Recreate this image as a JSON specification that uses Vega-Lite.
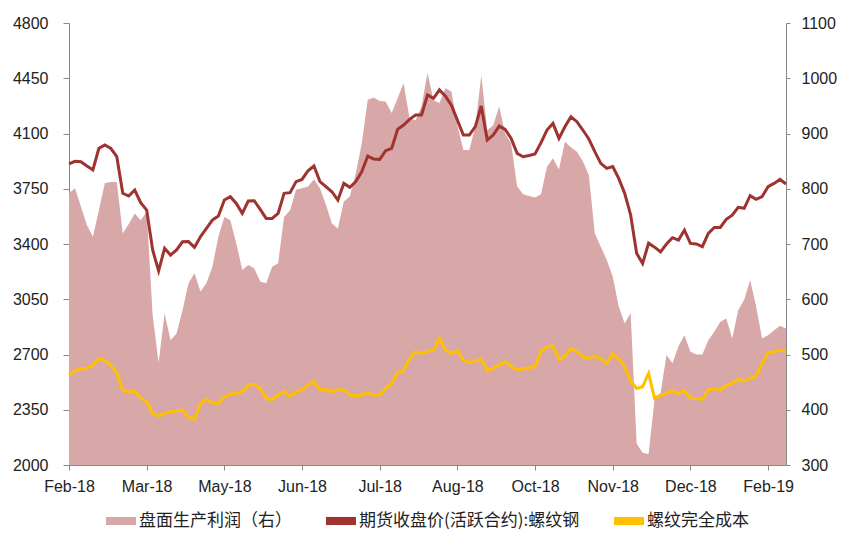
{
  "$schema": "https://vega.github.io/schema/vega-lite/v6.json",
  "width": 717,
  "height": 442,
  "autosize": {"type": "none"},
  "padding": {"left": 69, "top": 23, "right": 64, "bottom": 75},
  "background": "white",
  "config": {
    "view": {"stroke": null},
    "axis": {"labelFont": "Liberation Sans", "labelFontSize": 16, "labelColor": "#222", "domainColor": "#888", "tickColor": "#888", "grid": false, "title": null, "labelOverlap": false},
    "legend": {
      "orient": "none", "legendX": 37, "legendY": 483, "direction": "horizontal", "title": null,
      "labelFont": "Noto Sans CJK SC", "labelFontSize": 17, "labelColor": "#222",
      "symbolType": "M-1,-0.27H1V0.27H-1Z", "symbolSize": 900, "columnPadding": 34, "labelOffset": 3, "padding": 0, "labelLimit": 400, "symbolStrokeWidth": 0
    }
  },
  "data": {"values": [
    {"date": "2018-02-22", "price": 3907, "cost": 2570, "profit": 792},
    {"date": "2018-02-26", "price": 3924, "cost": 2597, "profit": 801},
    {"date": "2018-02-28", "price": 3921, "cost": 2608, "profit": 768},
    {"date": "2018-03-02", "price": 3894, "cost": 2612, "profit": 734},
    {"date": "2018-03-06", "price": 3870, "cost": 2633, "profit": 713},
    {"date": "2018-03-08", "price": 4006, "cost": 2675, "profit": 761},
    {"date": "2018-03-12", "price": 4027, "cost": 2661, "profit": 810},
    {"date": "2018-03-14", "price": 4006, "cost": 2633, "profit": 812},
    {"date": "2018-03-16", "price": 3953, "cost": 2585, "profit": 812},
    {"date": "2018-03-20", "price": 3721, "cost": 2475, "profit": 719},
    {"date": "2018-03-22", "price": 3704, "cost": 2460, "profit": 736},
    {"date": "2018-03-26", "price": 3742, "cost": 2470, "profit": 755},
    {"date": "2018-03-28", "price": 3662, "cost": 2422, "profit": 743},
    {"date": "2018-03-30", "price": 3615, "cost": 2401, "profit": 758},
    {"date": "2018-04-03", "price": 3362, "cost": 2327, "profit": 571},
    {"date": "2018-04-09", "price": 3230, "cost": 2310, "profit": 485},
    {"date": "2018-04-11", "price": 3372, "cost": 2327, "profit": 574},
    {"date": "2018-04-13", "price": 3330, "cost": 2337, "profit": 526},
    {"date": "2018-04-17", "price": 3362, "cost": 2344, "profit": 538},
    {"date": "2018-04-19", "price": 3414, "cost": 2348, "profit": 580},
    {"date": "2018-04-23", "price": 3415, "cost": 2299, "profit": 629},
    {"date": "2018-04-25", "price": 3379, "cost": 2289, "profit": 647},
    {"date": "2018-04-27", "price": 3446, "cost": 2390, "profit": 614},
    {"date": "2018-05-03", "price": 3499, "cost": 2416, "profit": 629},
    {"date": "2018-05-07", "price": 3552, "cost": 2394, "profit": 659},
    {"date": "2018-05-09", "price": 3577, "cost": 2390, "profit": 713},
    {"date": "2018-05-11", "price": 3679, "cost": 2432, "profit": 749},
    {"date": "2018-05-15", "price": 3700, "cost": 2449, "profit": 743},
    {"date": "2018-05-17", "price": 3657, "cost": 2454, "profit": 701},
    {"date": "2018-05-21", "price": 3594, "cost": 2464, "profit": 653},
    {"date": "2018-05-23", "price": 3672, "cost": 2506, "profit": 662},
    {"date": "2018-05-25", "price": 3674, "cost": 2511, "profit": 656},
    {"date": "2018-05-29", "price": 3619, "cost": 2485, "profit": 632},
    {"date": "2018-05-31", "price": 3562, "cost": 2422, "profit": 629},
    {"date": "2018-06-04", "price": 3562, "cost": 2411, "profit": 659},
    {"date": "2018-06-06", "price": 3594, "cost": 2443, "profit": 665},
    {"date": "2018-06-08", "price": 3721, "cost": 2464, "profit": 749},
    {"date": "2018-06-12", "price": 3725, "cost": 2437, "profit": 761},
    {"date": "2018-06-14", "price": 3795, "cost": 2464, "profit": 798},
    {"date": "2018-06-19", "price": 3809, "cost": 2475, "profit": 801},
    {"date": "2018-06-21", "price": 3864, "cost": 2506, "profit": 804},
    {"date": "2018-06-25", "price": 3894, "cost": 2527, "profit": 817},
    {"date": "2018-06-27", "price": 3795, "cost": 2475, "profit": 801},
    {"date": "2018-06-29", "price": 3763, "cost": 2479, "profit": 771},
    {"date": "2018-07-03", "price": 3731, "cost": 2464, "profit": 737},
    {"date": "2018-07-05", "price": 3678, "cost": 2475, "profit": 728},
    {"date": "2018-07-09", "price": 3784, "cost": 2475, "profit": 777},
    {"date": "2018-07-11", "price": 3759, "cost": 2443, "profit": 786},
    {"date": "2018-07-13", "price": 3795, "cost": 2437, "profit": 828},
    {"date": "2018-07-17", "price": 3858, "cost": 2443, "profit": 882},
    {"date": "2018-07-19", "price": 3957, "cost": 2458, "profit": 961},
    {"date": "2018-07-23", "price": 3938, "cost": 2443, "profit": 965},
    {"date": "2018-07-25", "price": 3936, "cost": 2443, "profit": 959},
    {"date": "2018-07-27", "price": 3991, "cost": 2485, "profit": 958},
    {"date": "2018-07-31", "price": 4006, "cost": 2513, "profit": 937},
    {"date": "2018-08-02", "price": 4126, "cost": 2585, "profit": 964},
    {"date": "2018-08-06", "price": 4154, "cost": 2597, "profit": 991},
    {"date": "2018-08-08", "price": 4190, "cost": 2675, "profit": 927},
    {"date": "2018-08-10", "price": 4217, "cost": 2718, "profit": 924},
    {"date": "2018-08-14", "price": 4217, "cost": 2707, "profit": 949},
    {"date": "2018-08-16", "price": 4344, "cost": 2718, "profit": 1010},
    {"date": "2018-08-20", "price": 4323, "cost": 2728, "profit": 960},
    {"date": "2018-08-22", "price": 4376, "cost": 2802, "profit": 955},
    {"date": "2018-08-24", "price": 4337, "cost": 2728, "profit": 982},
    {"date": "2018-08-28", "price": 4280, "cost": 2707, "profit": 976},
    {"date": "2018-08-30", "price": 4185, "cost": 2724, "profit": 915},
    {"date": "2018-09-03", "price": 4090, "cost": 2665, "profit": 870},
    {"date": "2018-09-05", "price": 4090, "cost": 2648, "profit": 870},
    {"date": "2018-09-07", "price": 4143, "cost": 2661, "profit": 912},
    {"date": "2018-09-11", "price": 4274, "cost": 2669, "profit": 1005},
    {"date": "2018-09-13", "price": 4059, "cost": 2597, "profit": 906},
    {"date": "2018-09-17", "price": 4090, "cost": 2612, "profit": 915},
    {"date": "2018-09-19", "price": 4147, "cost": 2633, "profit": 949},
    {"date": "2018-09-21", "price": 4126, "cost": 2654, "profit": 900},
    {"date": "2018-09-26", "price": 4069, "cost": 2627, "profit": 882},
    {"date": "2018-09-28", "price": 3974, "cost": 2601, "profit": 804},
    {"date": "2018-10-09", "price": 3953, "cost": 2610, "profit": 790},
    {"date": "2018-10-11", "price": 3961, "cost": 2616, "profit": 787},
    {"date": "2018-10-15", "price": 3970, "cost": 2623, "profit": 784},
    {"date": "2018-10-17", "price": 4042, "cost": 2718, "profit": 790},
    {"date": "2018-10-19", "price": 4122, "cost": 2749, "profit": 840},
    {"date": "2018-10-23", "price": 4164, "cost": 2754, "profit": 855},
    {"date": "2018-10-25", "price": 4069, "cost": 2669, "profit": 835},
    {"date": "2018-10-29", "price": 4143, "cost": 2686, "profit": 885},
    {"date": "2018-10-31", "price": 4206, "cost": 2739, "profit": 875},
    {"date": "2018-11-02", "price": 4175, "cost": 2718, "profit": 867},
    {"date": "2018-11-06", "price": 4122, "cost": 2686, "profit": 850},
    {"date": "2018-11-08", "price": 4065, "cost": 2675, "profit": 825},
    {"date": "2018-11-12", "price": 3985, "cost": 2690, "profit": 719},
    {"date": "2018-11-14", "price": 3911, "cost": 2675, "profit": 695},
    {"date": "2018-11-16", "price": 3879, "cost": 2644, "profit": 671},
    {"date": "2018-11-20", "price": 3890, "cost": 2703, "profit": 641},
    {"date": "2018-11-22", "price": 3816, "cost": 2675, "profit": 587},
    {"date": "2018-11-26", "price": 3721, "cost": 2623, "profit": 556},
    {"date": "2018-11-28", "price": 3584, "cost": 2534, "profit": 575},
    {"date": "2018-11-30", "price": 3341, "cost": 2485, "profit": 339},
    {"date": "2018-12-04", "price": 3277, "cost": 2496, "profit": 322},
    {"date": "2018-12-06", "price": 3405, "cost": 2580, "profit": 320},
    {"date": "2018-12-10", "price": 3380, "cost": 2422, "profit": 418},
    {"date": "2018-12-12", "price": 3350, "cost": 2443, "profit": 430},
    {"date": "2018-12-14", "price": 3400, "cost": 2454, "profit": 499},
    {"date": "2018-12-18", "price": 3440, "cost": 2471, "profit": 484},
    {"date": "2018-12-20", "price": 3425, "cost": 2454, "profit": 515},
    {"date": "2018-12-24", "price": 3488, "cost": 2471, "profit": 535},
    {"date": "2018-12-26", "price": 3404, "cost": 2422, "profit": 505},
    {"date": "2018-12-28", "price": 3400, "cost": 2422, "profit": 500},
    {"date": "2019-01-03", "price": 3383, "cost": 2416, "profit": 500},
    {"date": "2019-01-07", "price": 3467, "cost": 2475, "profit": 526},
    {"date": "2019-01-09", "price": 3505, "cost": 2485, "profit": 541},
    {"date": "2019-01-11", "price": 3505, "cost": 2475, "profit": 559},
    {"date": "2019-01-15", "price": 3556, "cost": 2506, "profit": 565},
    {"date": "2019-01-17", "price": 3583, "cost": 2517, "profit": 529},
    {"date": "2019-01-21", "price": 3632, "cost": 2542, "profit": 580},
    {"date": "2019-01-23", "price": 3626, "cost": 2532, "profit": 599},
    {"date": "2019-01-25", "price": 3706, "cost": 2549, "profit": 635},
    {"date": "2019-01-29", "price": 3683, "cost": 2563, "profit": 587},
    {"date": "2019-01-31", "price": 3700, "cost": 2644, "profit": 529},
    {"date": "2019-02-11", "price": 3763, "cost": 2711, "profit": 535},
    {"date": "2019-02-13", "price": 3784, "cost": 2718, "profit": 544},
    {"date": "2019-02-15", "price": 3809, "cost": 2728, "profit": 552},
    {"date": "2019-02-19", "price": 3780, "cost": 2718, "profit": 547}
  ]},
  "encoding": {
    "x": {
      "field": "date", "type": "ordinal",
      "scale": {"type": "point", "padding": 0},
      "axis": {
        "values": ["2018-02-22", "2018-03-30", "2018-05-11", "2018-06-19", "2018-07-25", "2018-08-30", "2018-10-15", "2018-11-20", "2018-12-26", "2019-02-11"],
        "labelExpr": "utcFormat(toDate(datum.value), '%b-%y')",
        "labelAngle": 0, "tickSize": 5, "labelPadding": 8
      }
    }
  },
  "layer": [
    {
      "mark": {"type": "area", "opacity": 1, "interpolate": "linear"},
      "encoding": {
        "y": {
          "field": "profit", "type": "quantitative",
          "scale": {"domain": [300, 1100], "nice": false, "zero": false},
          "axis": {"orient": "right", "values": [300, 400, 500, 600, 700, 800, 900, 1000, 1100], "format": "d", "tickSize": 4, "labelPadding": 11}
        },
        "y2": {"datum": 300},
        "color": {
          "datum": "盘面生产利润（右）",
          "scale": {"domain": ["盘面生产利润（右）", "期货收盘价(活跃合约):螺纹钢", "螺纹完全成本"], "range": ["#D8A7A7", "#9E3330", "#FFC000"]},
          "legend": {
            "encode": {"symbols": {"update": {
              "shape": {"condition": {"test": "datum.value === '盘面生产利润（右）'", "value": "M-1,-0.27H1V0.27H-1Z"}, "value": "M-1,-0.12H1V0.12H-1Z"},
              "opacity": {"value": 1},
              "strokeWidth": {"value": 0}
            }}}
          }
        }
      }
    },
    {
      "layer": [
        {
          "mark": {"type": "line", "strokeWidth": 3},
          "encoding": {
            "y": {
              "field": "price", "type": "quantitative",
              "scale": {"domain": [2000, 4800], "nice": false, "zero": false},
              "axis": {"orient": "left", "values": [2000, 2350, 2700, 3050, 3400, 3750, 4100, 4450, 4800], "format": "d", "tickSize": 6, "labelPadding": 15}
            },
            "color": {"datum": "期货收盘价(活跃合约):螺纹钢"}
          }
        },
        {
          "mark": {"type": "line", "strokeWidth": 3},
          "encoding": {
            "y": {
              "field": "cost", "type": "quantitative",
              "scale": {"domain": [2000, 4800], "nice": false, "zero": false},
              "axis": {"orient": "left", "values": [2000, 2350, 2700, 3050, 3400, 3750, 4100, 4450, 4800], "format": "d", "tickSize": 6, "labelPadding": 15}
            },
            "color": {"datum": "螺纹完全成本"}
          }
        }
      ]
    }
  ],
  "resolve": {"scale": {"y": "independent"}}
}
